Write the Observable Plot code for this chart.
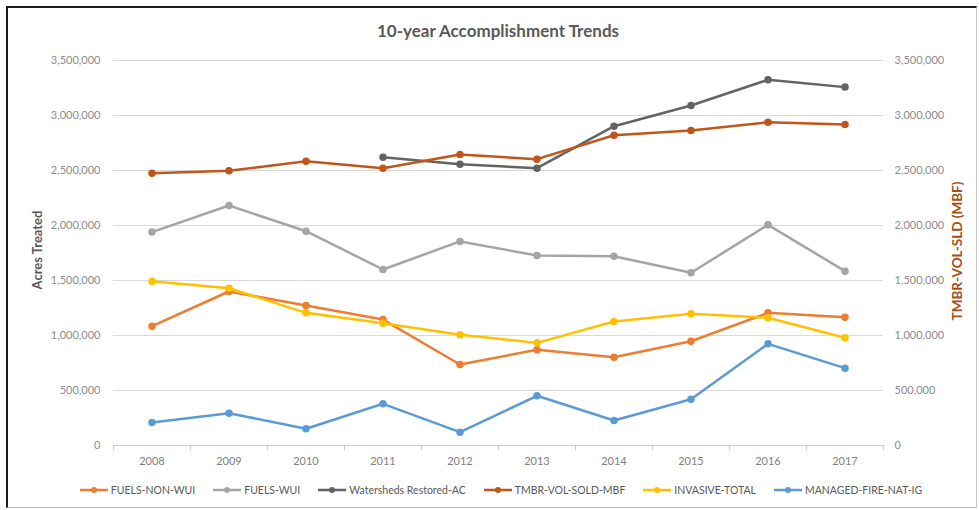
<!DOCTYPE html>
<html>
<head>
<meta charset="utf-8">
<script src="https://cdn.jsdelivr.net/npm/d3@7"></script>
<script src="https://cdn.jsdelivr.net/npm/@observablehq/plot@0.6"></script>
<style>
  body { margin: 0; background: #fff; }
  #wrap { position: relative; width: 979px; height: 510px; background: #fff; overflow: hidden; font-family: Lato, "Open Sans", sans-serif; }
  #frame { position: absolute; left: 6px; top: 6px; width: 968px; height: 499px; border-top: 2px solid #1a1a1a; border-left: 2px solid #1a1a1a; border-right: 1px solid #c8c8c8; border-bottom: 1px solid #bdbdbd; }
  #chart { position: absolute; left: 0; top: 0; }
  #title { position: absolute; left: 113px; width: 770px; top: 20px; text-align: center; font-size: 17px; font-weight: 700; color: #595959; line-height: 22px; }
  .ytitle { position: absolute; width: 220px; text-align: center; font-size: 13px; font-weight: 700; line-height: 16px; transform: rotate(-90deg); transform-origin: 50% 50%; }
  #legend { position: absolute; left: 113px; width: 776px; top: 482px; display: flex; justify-content: center; gap: 18px; font-size: 10.5px; color: #595959; line-height: 16px; }
  .item { display: flex; align-items: center; gap: 3px; white-space: nowrap; }
</style>
</head>
<body>
<div id="wrap">
  <div id="frame"></div>
  <div id="chart"></div>
  <div id="title">10-year Accomplishment Trends</div>
  <div class="ytitle" id="yl" style="left:-73px; top:242px; color:#595959;">Acres Treated</div>
  <div class="ytitle" id="yr" style="left:847px; top:243px; color:#A54F18; font-size:13.5px;">TMBR-VOL-SLD (MBF)</div>
  <div id="legend"></div>
</div>
<script>
// ---- data ----
const years = [2008, 2009, 2010, 2011, 2012, 2013, 2014, 2015, 2016, 2017];
const fuelsNonWui = [1085000, 1400000, 1273000, 1145000, 736000, 870000, 803000, 948000, 1206000, 1167000];
const fuelsWui = [1940000, 2182000, 1948000, 1600000, 1855000, 1727000, 1721000, 1570000, 2006000, 1585000];
const watershedsRestored = [null, null, null, 2621000, 2557000, 2521000, 2903000, 3091000, 3324000, 3258000];
const tmbrVolSold = [2476000, 2497000, 2585000, 2521000, 2645000, 2603000, 2821000, 2864000, 2939000, 2918000];
const invasiveTotal = [1494000, 1430000, 1206000, 1112000, 1006000, 933000, 1127000, 1197000, 1161000, 979000];
const managedFire = [209000, 294000, 152000, 379000, 121000, 452000, 227000, 421000, 924000, 703000];

const seriesNames = ["FUELS-NON-WUI", "FUELS-WUI", "Watersheds Restored-AC", "TMBR-VOL-SOLD-MBF", "INVASIVE-TOTAL", "MANAGED-FIRE-NAT-IG"];
const seriesValues = [fuelsNonWui, fuelsWui, watershedsRestored, tmbrVolSold, invasiveTotal, managedFire];
const seriesColors = ["#ED7D31", "#A5A5A5", "#636363", "#C0561A", "#FFC000", "#5B9BD5"];
// drawing order: primary-axis series first, secondary (TMBR) on top
const drawOrder = [0, 1, 2, 4, 5, 3];

const yTicks = [0, 500000, 1000000, 1500000, 2000000, 2500000, 3000000, 3500000];

// ---- build ----
const yearBounds = years.map(y => y - 0.5).concat([years[years.length - 1] + 0.5]);
const rows = [];
drawOrder.forEach(i => {
  years.forEach((yr, j) => {
    const v = seriesValues[i][j];
    if (v != null) rows.push({year: yr, value: v, series: seriesNames[i]});
  });
});

const fmt = d3.format(",");
const marks = [
  Plot.gridY(yTicks, {stroke: "#d9d9d9", strokeOpacity: 1, strokeWidth: 1}),
  Plot.ruleY([0], {stroke: "#c8c8c8", strokeWidth: 1}),
  Plot.axisX(yearBounds, {tickSize: 5, tickFormat: () => "", stroke: "#c8c8c8", strokeOpacity: 1, label: null}),
  Plot.axisX(years, {tickSize: 0, tickPadding: 12, tickFormat: d => String(d), fill: "#808080", fontSize: 11, label: null}),
  Plot.axisY(yTicks, {anchor: "left", tickSize: 0, tickPadding: 13, tickFormat: fmt, fill: "#8c8c8c", fontSize: 11, label: null}),
  Plot.axisY(yTicks, {anchor: "right", tickSize: 0, tickPadding: 11, tickFormat: fmt, fill: "#8c8c8c", fontSize: 11, label: null})
];
drawOrder.forEach(i => {
  const data = rows.filter(r => r.series === seriesNames[i]);
  marks.push(Plot.line(data, {x: "year", y: "value", stroke: seriesColors[i], strokeWidth: 2.5}));
  marks.push(Plot.dot(data, {x: "year", y: "value", fill: seriesColors[i], stroke: seriesColors[i], r: 3}));
});

const chart = Plot.plot({
  width: 979,
  height: 470,
  marginLeft: 113,
  marginRight: 96,
  marginTop: 60,
  marginBottom: 25,
  style: {fontFamily: "Lato, 'Open Sans', sans-serif", background: "transparent"},
  x: {type: "linear", domain: [yearBounds[0], yearBounds[yearBounds.length - 1]], label: null},
  y: {domain: [0, 3500000], label: null},
  marks
});
document.getElementById("chart").appendChild(chart);

// ---- legend ----
const legend = document.getElementById("legend");
seriesNames.forEach((name, i) => {
  const item = document.createElement("div");
  item.className = "item";
  const ns = "http://www.w3.org/2000/svg";
  const sw = document.createElementNS(ns, "svg");
  sw.setAttribute("width", "28"); sw.setAttribute("height", "10");
  const ln = document.createElementNS(ns, "line");
  ln.setAttribute("x1", "0"); ln.setAttribute("x2", "28"); ln.setAttribute("y1", "5"); ln.setAttribute("y2", "5");
  ln.setAttribute("stroke", seriesColors[i]); ln.setAttribute("stroke-width", "2.5");
  const c = document.createElementNS(ns, "circle");
  c.setAttribute("cx", "14"); c.setAttribute("cy", "5"); c.setAttribute("r", "3");
  c.setAttribute("fill", seriesColors[i]);
  sw.appendChild(ln); sw.appendChild(c);
  const t = document.createElement("span");
  t.textContent = name;
  item.appendChild(sw); item.appendChild(t);
  legend.appendChild(item);
});
</script>
</body>
</html>
